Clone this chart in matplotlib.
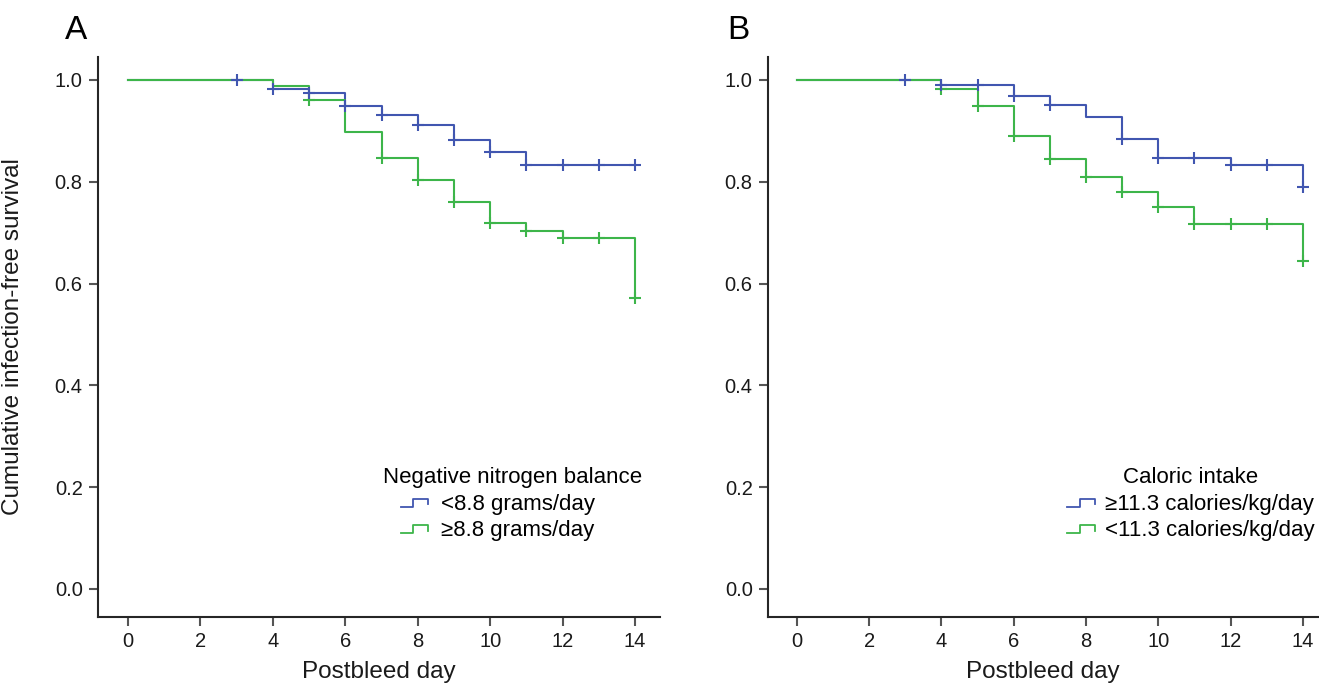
import numpy as np
import matplotlib
matplotlib.use("Agg")
import matplotlib.pyplot as plt
from matplotlib.lines import Line2D
from matplotlib.legend_handler import HandlerBase

plt.rcParams['font.family'] = ['Liberation Sans', 'DejaVu Sans']

# ---------------- data ----------------
# Panel A: negative nitrogen balance
a_blue_label = "<8.8 grams/day"
a_blue_times = [0, 4, 5, 6, 7, 8, 9, 10, 11, 14]
a_blue_surv = [1.0, 0.982, 0.974, 0.948, 0.931, 0.911, 0.881, 0.858, 0.833, 0.833]
a_blue_censor = [3, 4, 5, 6, 7, 8, 9, 10, 11, 12, 13, 14]

a_green_label = "\u22658.8 grams/day"
a_green_times = [0, 4, 5, 6, 7, 8, 9, 10, 11, 12, 14]
a_green_surv = [1.0, 0.989, 0.961, 0.898, 0.847, 0.804, 0.761, 0.718, 0.704, 0.690, 0.572]
a_green_censor = [5, 7, 8, 9, 10, 11, 12, 13, 14]

# Panel B: caloric intake
b_blue_label = "\u226511.3 calories/kg/day"
b_blue_times = [0, 4, 6, 7, 8, 9, 10, 12, 14]
b_blue_surv = [1.0, 0.990, 0.969, 0.950, 0.928, 0.883, 0.847, 0.832, 0.790]
b_blue_censor = [3, 4, 5, 6, 7, 9, 10, 11, 12, 13, 14]

b_green_label = "<11.3 calories/kg/day"
b_green_times = [0, 4, 5, 6, 7, 8, 9, 10, 11, 14]
b_green_surv = [1.0, 0.982, 0.948, 0.889, 0.845, 0.809, 0.780, 0.750, 0.717, 0.645]
b_green_censor = [4, 5, 6, 7, 8, 9, 10, 11, 12, 13, 14]

x_ticks = [0, 2, 4, 6, 8, 10, 12, 14]
y_ticks = [0.0, 0.2, 0.4, 0.6, 0.8, 1.0]

BLUE = "#4156B0"
GREEN = "#3DB54A"
AXC = "#262626"


def surv_at(times, surv, t):
    idx = np.searchsorted(times, t, side='right') - 1
    return np.asarray(surv)[idx]


class StepHandler(HandlerBase):
    def __init__(self, offset_frac=0.0):
        super().__init__()
        self.offset_frac = offset_frac

    def create_artists(self, legend, orig_handle, xdescent, ydescent,
                       width, height, fontsize, trans):
        x0 = -xdescent + width * self.offset_frac
        w = width * (1 - self.offset_frac)
        y0 = -ydescent
        xs = [x0, x0 + 0.45 * w, x0 + 0.45 * w, x0 + w, x0 + w]
        ys = [y0 + 0.2 * height, y0 + 0.2 * height, y0 + 0.72 * height,
              y0 + 0.72 * height, y0 + 0.35 * height]
        ln = Line2D(xs, ys, color=orig_handle.get_color(), lw=1.3,
                    transform=trans)
        return [ln]


fig = plt.figure(figsize=(13.19, 6.88), dpi=100)
axA = fig.add_axes([98 / 1319, 71 / 688, 562 / 1319, 560 / 688])
axB = fig.add_axes([768 / 1319, 71 / 688, 550 / 1319, 560 / 688])


def draw_panel(ax, bt, bs, bc, gt, gs, gc, xlim):
    lb, = ax.step(bt, bs, where='post', color=BLUE, lw=1.5, zorder=2)
    lg, = ax.step(gt, gs, where='post', color=GREEN, lw=1.5, zorder=3)
    ax.plot(gc, surv_at(gt, gs, gc), ls='none', marker='+', ms=8, mew=1.5,
            color=GREEN, zorder=4)
    ax.plot(bc, surv_at(bt, bs, bc), ls='none', marker='+', ms=8, mew=1.5,
            color=BLUE, zorder=5)
    ax.set_xlim(*xlim)
    ax.set_ylim(-0.055, 1.045)
    ax.set_xticks(x_ticks)
    ax.set_yticks(y_ticks)
    ax.set_yticklabels([f"{v:.1f}" for v in y_ticks])
    for s in ['top', 'right']:
        ax.spines[s].set_visible(False)
    for s in ['left', 'bottom']:
        ax.spines[s].set_color(AXC)
        ax.spines[s].set_linewidth(1.5)
    ax.tick_params(axis='both', length=6.5, width=1.5, color='#555555',
                   labelsize=14.5, labelcolor='#1a1a1a', pad=4.5)
    ax.set_xlabel("Postbleed day", fontsize=17.5, color='#1a1a1a', labelpad=7)
    return lb, lg


lbA, lgA = draw_panel(axA, a_blue_times, a_blue_surv, a_blue_censor,
                      a_green_times, a_green_surv, a_green_censor, (-0.83, 14.69))
lbB, lgB = draw_panel(axB, b_blue_times, b_blue_surv, b_blue_censor,
                      b_green_times, b_green_surv, b_green_censor, (-0.80, 14.42))

axA.set_ylabel("Cumulative infection-free survival", fontsize=17.5, color='#1a1a1a')
axA.yaxis.set_label_coords(-0.132, 0.5)

legA = axA.legend([lbA, lgA], [a_blue_label, a_green_label],
                  title="Negative nitrogen balance", loc='lower right',
                  bbox_to_anchor=(0.968, 0.135), frameon=False, fontsize=16,
                  title_fontsize=16, alignment='left', handlelength=2.03,
                  handletextpad=0.59, labelspacing=0.25, borderpad=0,
                  borderaxespad=0,
                  handler_map={lbA: StepHandler(0.4), lgA: StepHandler(0.4)})
legB = axB.legend([lbB, lgB], [b_blue_label, b_green_label],
                  title="Caloric intake", loc='lower right',
                  bbox_to_anchor=(0.993, 0.135), frameon=False, fontsize=16,
                  title_fontsize=16, alignment='center', handlelength=1.22,
                  handletextpad=0.45, labelspacing=0.25, borderpad=0,
                  borderaxespad=0,
                  handler_map={lbB: StepHandler(0.0), lgB: StepHandler(0.0)})

fig.text(76 / 1319, 1 - 39 / 688, "A", fontsize=24, ha='center', va='baseline')
fig.text(738 / 1319, 1 - 39 / 688, "B", fontsize=24, ha='center', va='baseline')

fig.savefig("out.png", dpi=100)
